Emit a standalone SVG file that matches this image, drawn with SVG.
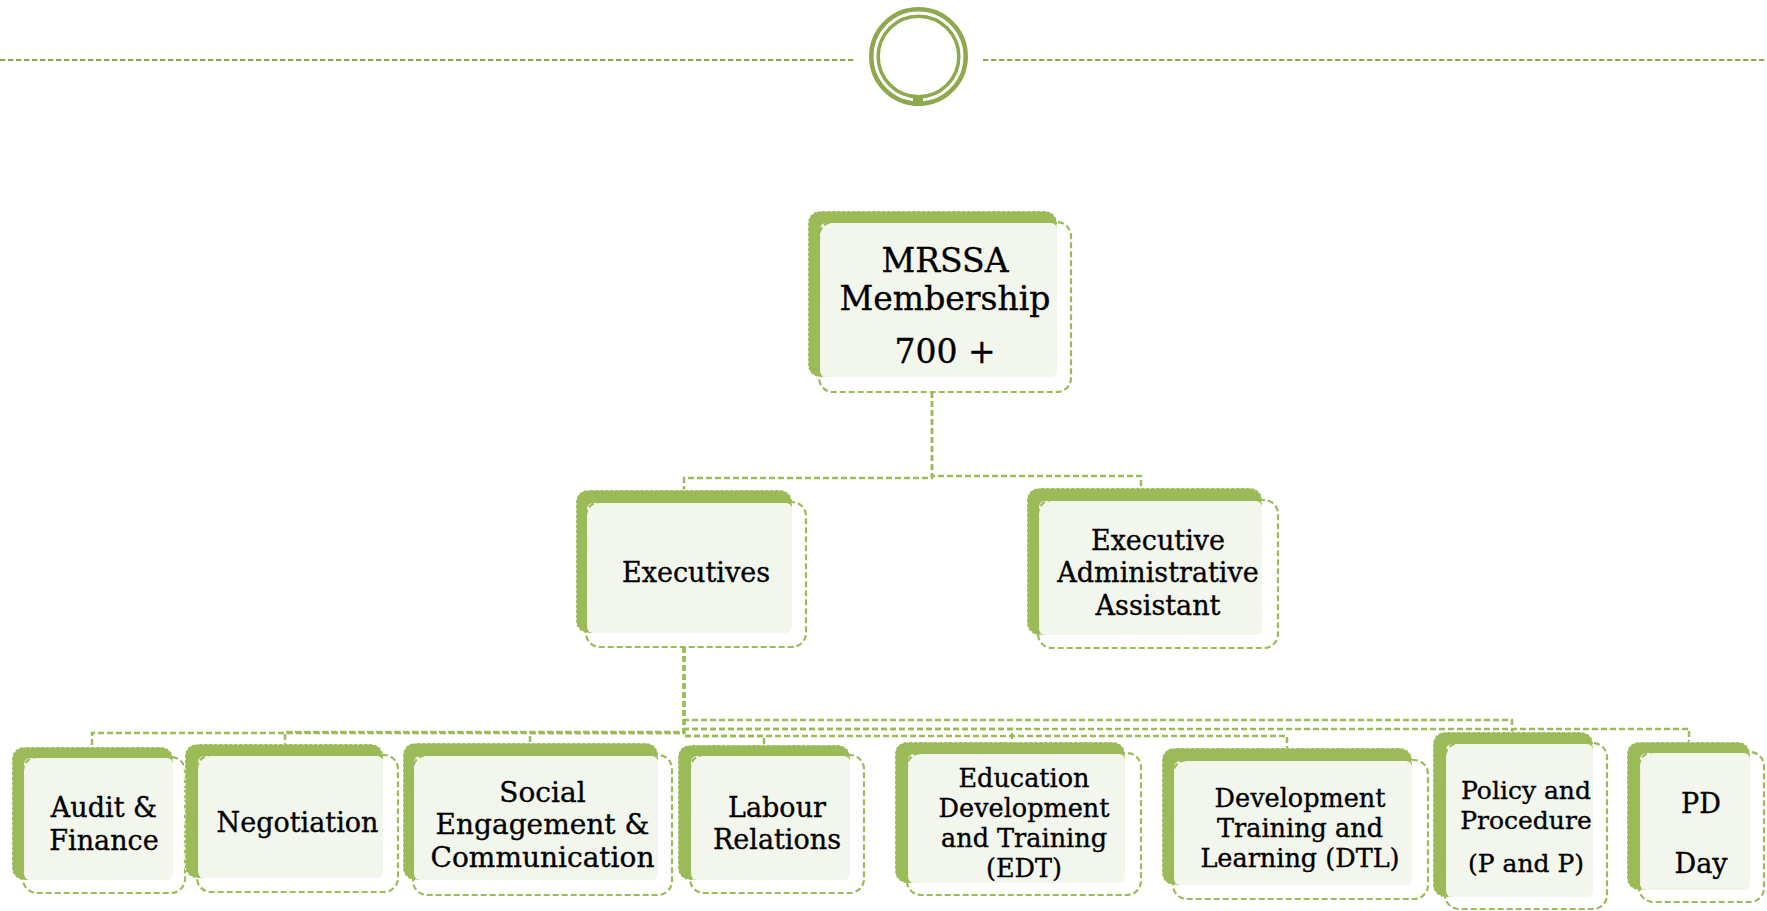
<svg xmlns="http://www.w3.org/2000/svg" width="1767" height="911" viewBox="0 0 1767 911">
<style>
.g{fill:#9bbb59;stroke:#ffffff;stroke-width:1.2;stroke-dasharray:2.5 2.5}
.f{fill:#f3f6ed}
.o{fill:none;stroke:#9bbb59;stroke-width:2.2;stroke-dasharray:6 3}
.c{fill:none;stroke:#9bbb59;stroke-width:2.5;stroke-dasharray:6 3}
.h{fill:none;stroke:#8ea84d;stroke-width:2.2;stroke-dasharray:5.3 2.7}
.t{font-family:"DejaVu Serif","Liberation Serif",serif;fill:#000;stroke:#000;stroke-width:0.35;text-anchor:middle}
</style>
<rect width="1767" height="911" fill="#ffffff"/>
<g id="header">
<line class="h" x1="0" y1="60" x2="855" y2="60"/>
<line class="h" x1="983" y1="60" x2="1767" y2="60"/>
<circle cx="918.5" cy="56.5" r="47.2" fill="none" stroke="#8ea84d" stroke-width="4.5"/>
<circle cx="918.5" cy="56.5" r="40.3" fill="none" stroke="#8ea84d" stroke-width="3.5"/>
<rect x="913" y="96" width="10" height="10" fill="#8ea84d"/>
</g>
<g id="connectors">
<path class="c" d="M932 392V478H684V490"/>
<path class="c" d="M932 392V476H1141V488"/>
<path class="c" d="M684 647V733H92V747"/>
<path class="c" d="M684 647V732H285V744"/>
<path class="c" d="M684 647V733H530V743"/>
<path class="c" d="M684 647V736H764V745"/>
<path class="c" d="M684 647V729H1012V742"/>
<path class="c" d="M684 647V736H1287V748"/>
<path class="c" d="M684 647V720H1512V732"/>
<path class="c" d="M684 647V729H1689V742"/>
</g>
<g id="n-mrssa">
<rect class="g" x="808" y="211" width="249" height="166" rx="12"/>
<rect class="f" x="820" y="223" width="237" height="154" rx="6"/>
<rect class="o" x="819" y="222" width="252" height="170" rx="14"/>
<text class="t" font-size="33" x="945" y="272">MRSSA</text>
<text class="t" font-size="33" x="945" y="310">Membership</text>
<text class="t" font-size="33" x="945" y="363">700 +</text>
</g>
<g id="n-executives">
<rect class="g" x="576" y="490" width="216" height="143" rx="12"/>
<rect class="f" x="587" y="503" width="205" height="130" rx="6"/>
<rect class="o" x="586" y="502" width="220" height="145" rx="14"/>
<text class="t" font-size="27" x="696" y="582">Executives</text>
</g>
<g id="n-admin">
<rect class="g" x="1027" y="488" width="235" height="147" rx="12"/>
<rect class="f" x="1039" y="501" width="223" height="134" rx="6"/>
<rect class="o" x="1038" y="500" width="240" height="148" rx="14"/>
<text class="t" font-size="27" x="1158" y="550">Executive</text>
<text class="t" font-size="27" x="1158" y="582">Administrative</text>
<text class="t" font-size="27" x="1158" y="615">Assistant</text>
</g>
<g id="n-audit">
<rect class="g" x="12" y="747" width="161" height="133" rx="12"/>
<rect class="f" x="24" y="758" width="149" height="122" rx="6"/>
<rect class="o" x="23" y="757" width="162" height="136" rx="14"/>
<text class="t" font-size="27" x="104" y="817">Audit &amp;</text>
<text class="t" font-size="27" x="104" y="850">Finance</text>
</g>
<g id="n-negotiation">
<rect class="g" x="185" y="744" width="198" height="134" rx="12"/>
<rect class="f" x="198" y="756" width="185" height="122" rx="6"/>
<rect class="o" x="197" y="755" width="201" height="137" rx="14"/>
<text class="t" font-size="27" x="297.5" y="832">Negotiation</text>
</g>
<g id="n-social">
<rect class="g" x="403" y="743" width="255" height="137" rx="12"/>
<rect class="f" x="414" y="756" width="244" height="124" rx="6"/>
<rect class="o" x="413" y="755" width="259" height="140" rx="14"/>
<text class="t" font-size="28" x="542.5" y="802">Social</text>
<text class="t" font-size="28" x="542.5" y="834">Engagement &amp;</text>
<text class="t" font-size="28" x="542.5" y="867">Communication</text>
</g>
<g id="n-labour">
<rect class="g" x="678" y="745" width="172" height="135" rx="12"/>
<rect class="f" x="691" y="756" width="159" height="124" rx="6"/>
<rect class="o" x="690" y="755" width="174" height="138" rx="14"/>
<text class="t" font-size="27" x="777" y="817">Labour</text>
<text class="t" font-size="27" x="777" y="849">Relations</text>
</g>
<g id="n-edt">
<rect class="g" x="895" y="742" width="230" height="141" rx="12"/>
<rect class="f" x="908" y="754" width="217" height="129" rx="6"/>
<rect class="o" x="907" y="753" width="234" height="142" rx="14"/>
<text class="t" font-size="25.5" x="1024" y="787">Education</text>
<text class="t" font-size="25.5" x="1024" y="817">Development</text>
<text class="t" font-size="25.5" x="1024" y="847">and Training</text>
<text class="t" font-size="25.5" x="1024" y="877">(EDT)</text>
</g>
<g id="n-dtl">
<rect class="g" x="1162" y="748" width="250" height="137" rx="12"/>
<rect class="f" x="1174" y="761" width="238" height="124" rx="6"/>
<rect class="o" x="1173" y="760" width="255" height="139" rx="14"/>
<text class="t" font-size="25.5" x="1300" y="807">Development</text>
<text class="t" font-size="25.5" x="1300" y="837">Training and</text>
<text class="t" font-size="25.5" x="1300" y="867">Learning (DTL)</text>
</g>
<g id="n-policy">
<rect class="g" x="1433" y="732" width="160" height="165" rx="12"/>
<rect class="f" x="1446" y="744" width="147" height="153" rx="6"/>
<rect class="o" x="1445" y="743" width="162" height="166" rx="14"/>
<text class="t" font-size="25" x="1526" y="799">Policy and</text>
<text class="t" font-size="25" x="1526" y="829">Procedure</text>
<text class="t" font-size="25" x="1526" y="872">(P and P)</text>
</g>
<g id="n-pd">
<rect class="g" x="1627" y="742" width="123" height="148" rx="12"/>
<rect class="f" x="1640" y="753" width="110" height="137" rx="6"/>
<rect class="o" x="1639" y="752" width="125" height="150" rx="14"/>
<text class="t" font-size="27" x="1701" y="813">PD</text>
<text class="t" font-size="27" x="1701" y="873">Day</text>
</g>
</svg>
